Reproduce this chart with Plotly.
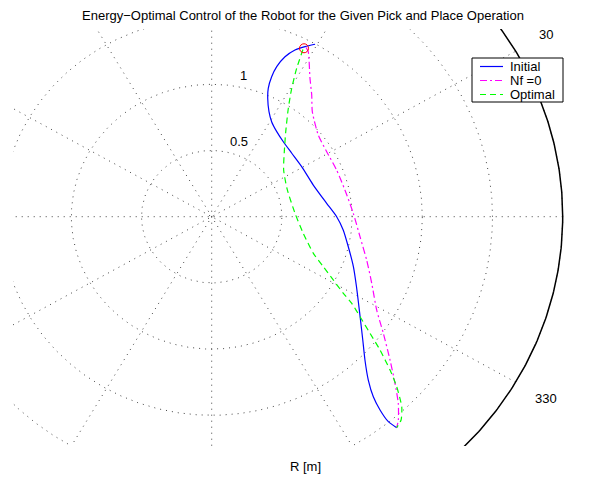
import numpy as np
import plotly.graph_objects as go

# ---------------- data (polar: angle in degrees, radius in m) ----------------
theta_initial = [60.52, 62.62, 64.78, 66.63, 67.77, 68.00, 67.44, 65.95, 62.78, 59.26,
                 54.20, 47.98, 40.04, 30.53, 18.27, 7.03, 0.00, -6.09, -13.13, -20.54,
                 -27.15, -31.94, -36.36, -40.87, -44.75, -47.88, -49.76, -50.60, -50.90, -50.42]
r_initial = [1.496, 1.446, 1.392, 1.316, 1.224, 1.140, 1.050, 0.979, 0.892, 0.835,
             0.792, 0.762, 0.745, 0.744, 0.762, 0.825, 0.890, 0.942, 0.999, 1.078,
             1.159, 1.232, 1.316, 1.423, 1.537, 1.663, 1.782, 1.889, 1.995, 2.068]

theta_nf0 = [62.26, 61.10, 56.19, 52.23, 47.90, 39.11, 30.94, 21.62, 12.00, 1.46,
             -8.14, -16.50, -23.82, -30.95, -35.78, -40.44, -43.94, -46.68, -49.12, -50.42]
r_nf0 = [1.444, 1.423, 1.258, 1.163, 1.069, 0.978, 0.955, 0.957, 0.970, 1.009,
         1.067, 1.151, 1.246, 1.370, 1.507, 1.669, 1.813, 1.937, 2.031, 2.068]

theta_optimal = [62.76, 61.63, 59.57, 56.32, 50.61, 43.51, 34.52, 20.94, 2.48, -10.88,
                 -20.91, -25.41, -28.90, -31.68, -33.26, -35.56, -37.99, -40.02, -42.36,
                 -44.26, -46.68, -48.71, -50.42]
r_optimal = [1.420, 1.274, 1.125, 0.984, 0.831, 0.713, 0.622, 0.576, 0.594, 0.664,
             0.775, 0.880, 0.989, 1.102, 1.193, 1.299, 1.431, 1.565, 1.719,
             1.840, 1.973, 2.044, 2.068]

start_theta = [62.67]
start_r = [1.432]

series_names = ["Initial", "Nf =0", "Optimal"]

# polar grid definition
R_MAX = 2.5
RING_STEP = 0.5
SPOKE_STEP_DEG = 30
angle_label_deg = [30, 330]
angle_labels = ["30", "330"]
radial_label_values = [0.5, 1]
radial_labels = ["0.5", "1"]

TITLE = "Energy\u2212Optimal Control of the Robot for the Given Pick and Place Operation"
XLABEL = "R [m]"

# ---------------- layout constants ----------------
W, H = 593, 482
ML, MR, MT, MB = 13, 2, 29, 36
X_RANGE = [-1.4153, 2.7016]
Y_RANGE = [-1.7319, 1.4177]
FONT = "Liberation Sans, Arial, Helvetica, sans-serif"
FS = 13
GRID_COLOR = "#444444"
GRID_DASH = "1px,5px"

PW, PH = W - ML - MR, H - MT - MB


def px_to_paper(px, py):
    return (px - ML) / PW, (H - MB - py) / PH


def to_xy(theta_deg, r):
    t = np.deg2rad(np.asarray(theta_deg, dtype=float))
    r = np.asarray(r, dtype=float)
    return r * np.cos(t), r * np.sin(t)


fig = go.Figure()

# rings (dotted)
phi = np.linspace(0, 360, 721)
ring_x, ring_y = [], []
for rr in np.arange(RING_STEP, R_MAX + 1e-9, RING_STEP):
    x, y = to_xy(phi, np.full_like(phi, rr))
    ring_x += list(x) + [None]
    ring_y += list(y) + [None]
fig.add_trace(go.Scatter(x=ring_x, y=ring_y, mode="lines", hoverinfo="skip",
                         line=dict(color=GRID_COLOR, width=1, dash=GRID_DASH),
                         showlegend=False))

# spokes (dotted diameters)
sp_x, sp_y = [], []
for ang in range(SPOKE_STEP_DEG, 181, SPOKE_STEP_DEG):
    x, y = to_xy([ang + 180, ang], [R_MAX, R_MAX])
    sp_x += list(x) + [None]
    sp_y += list(y) + [None]
fig.add_trace(go.Scatter(x=sp_x, y=sp_y, mode="lines", hoverinfo="skip",
                         line=dict(color=GRID_COLOR, width=1, dash=GRID_DASH),
                         showlegend=False))

# outer solid circle
ox, oy = to_xy(phi, np.full_like(phi, R_MAX))
fig.add_trace(go.Scatter(x=ox, y=oy, mode="lines", hoverinfo="skip",
                         line=dict(color="black", width=1.5), showlegend=False))

# series
styles = [
    dict(color="#0000ff", width=1.2, dash="solid"),
    dict(color="#ff00ff", width=1.2, dash="7px,3px,2px,3px"),
    dict(color="#00ff00", width=1.2, dash="6px,4px"),
]
series = [(theta_initial, r_initial), (theta_nf0, r_nf0), (theta_optimal, r_optimal)]
for (th, rr), name, st in zip(series, series_names, styles):
    x, y = to_xy(th, rr)
    fig.add_trace(go.Scatter(x=x, y=y, mode="lines", name=name,
                             line=dict(shape="spline", smoothing=0.6, **st),
                             showlegend=False))

# start marker
sx, sy = to_xy(start_theta, start_r)
fig.add_trace(go.Scatter(x=sx, y=sy, mode="markers", showlegend=False,
                         marker=dict(symbol="circle-open", size=9, color="red",
                                     line=dict(width=1, color="red"))))

annotations = []
# angle labels
for ang, lab in zip(angle_label_deg, angle_labels):
    ax_, ay_ = to_xy([ang], [1.1 * R_MAX])
    annotations.append(dict(x=float(ax_[0]), y=float(ay_[0]), xref="x", yref="y",
                            text=lab, showarrow=False, xanchor="center", yanchor="middle",
                            font=dict(family=FONT, size=FS, color="black")))
# radial labels
for val, lab in zip(radial_label_values, radial_labels):
    lx, ly = to_xy([82], [val + RING_STEP / 20])
    annotations.append(dict(x=float(lx[0]), y=float(ly[0]), xref="x", yref="y",
                            text=lab, showarrow=False, xanchor="left", yanchor="bottom",
                            xshift=6, yshift=-3,
                            font=dict(family=FONT, size=FS, color="black")))

# x label
lx, ly = px_to_paper(305, 467)
annotations.append(dict(x=lx, y=ly, xref="paper", yref="paper", text=XLABEL,
                        showarrow=False, xanchor="center", yanchor="middle",
                        font=dict(family=FONT, size=FS, color="black")))

# manual legend
shapes = []
bx0, by0 = px_to_paper(472, 58)
bx1, by1 = px_to_paper(563, 102)
shapes.append(dict(type="rect", xref="paper", yref="paper", x0=bx0, x1=bx1, y0=by1, y1=by0,
                   fillcolor="white", line=dict(color="black", width=1), layer="above"))
row_py = [66.5, 80.5, 94.5]
for name, st, py in zip(series_names, styles, row_py):
    x0, y0 = px_to_paper(480, py)
    x1, _ = px_to_paper(503, py)
    shapes.append(dict(type="line", xref="paper", yref="paper", x0=x0, x1=x1, y0=y0, y1=y0,
                       line=dict(color=st["color"], width=st["width"], dash=st["dash"]),
                       layer="above"))
    tx, _ = px_to_paper(508, py)
    annotations.append(dict(x=tx, y=y0, xref="paper", yref="paper", text=name,
                            showarrow=False, xanchor="left", yanchor="middle",
                            font=dict(family=FONT, size=FS, color="black")))

fig.update_layout(
    width=W, height=H,
    margin=dict(l=ML, r=MR, t=MT, b=MB, autoexpand=False),
    paper_bgcolor="white", plot_bgcolor="white",
    title=dict(text=TITLE, x=303 / W, xanchor="center", xref="container",
               y=1 - 15.5 / H, yanchor="middle", yref="container",
               font=dict(family=FONT, size=FS, color="black")),
    xaxis=dict(range=X_RANGE, visible=False, fixedrange=True),
    yaxis=dict(range=Y_RANGE, visible=False, fixedrange=True),
    annotations=annotations, shapes=shapes,
    showlegend=False, hovermode=False,
)

fig.write_html("out.html")
